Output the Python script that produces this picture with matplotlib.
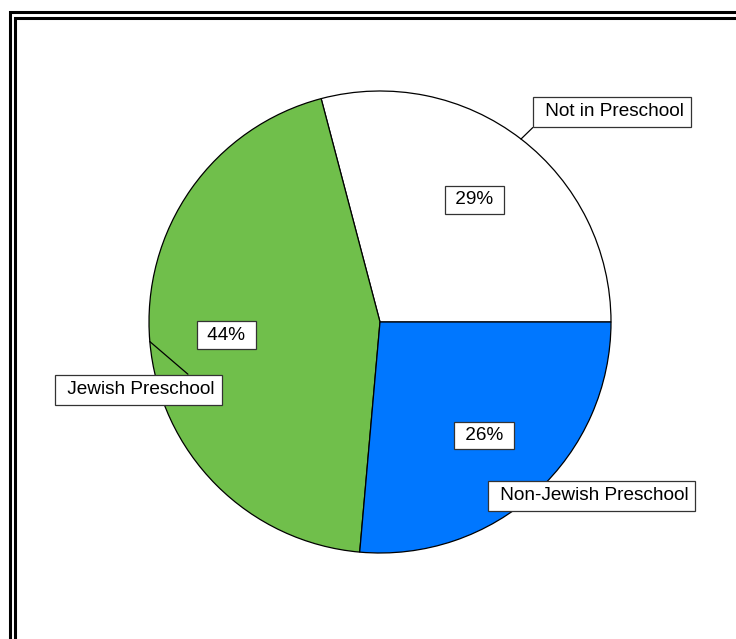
import numpy as np
import matplotlib.pyplot as plt
from matplotlib.patches import Rectangle

plt.rcParams['font.family'] = ['Liberation Sans', 'DejaVu Sans']

# preschool attendance shares
categories = ['Not in Preschool', 'Jewish Preschool', 'Non-Jewish Preschool']
shares = [29.1, 44.5, 26.4]
pct_labels = ['29%', '44%', '26%']
colors = ['#ffffff', '#70bf4b', '#0077ff']

W, H = 736, 639
fig = plt.figure(figsize=(W / 100, H / 100), dpi=100)
ax = fig.add_axes([0, 0, 1, 1])

# double frame, running off the right and bottom edges
for x0, y0 in [(9.5, 11.5), (14.5, 17.5)]:
    ax.add_patch(Rectangle((x0, -20), W + 40, H - y0 + 20, fill=False,
                           edgecolor='black', lw=2.2, clip_on=False))

cx, cy, r = 380, H - 322, 231
wedges, _ = ax.pie(shares, colors=colors, startangle=0, counterclock=True,
                   center=(cx, cy), radius=r, frame=True,
                   wedgeprops=dict(edgecolor='black', linewidth=0.9))
ax.set_xlim(0, W)
ax.set_ylim(0, H)
ax.axis('off')

fs = 13.7
box = dict(boxstyle='square,pad=0.28', facecolor='white', edgecolor='#333333', lw=0.9)

# label box centres (pixel coords from top-left) and where the leader meets the box
label_pos = [(612, 112), (138.5, 390), (591.5, 496)]
leader_rel = [(0, 0), (0.88, 1), (0.3, 0.5)]

for w, pct, name, (tx, ty), rel in zip(wedges, pct_labels, categories, label_pos, leader_rel):
    mid = np.deg2rad((w.theta1 + w.theta2) / 2)
    px = cx + 0.667 * r * np.cos(mid)
    py = cy + 0.667 * r * np.sin(mid)
    ax.text(px, py, ' ' + pct + ' ', ha='center', va='center', fontsize=fs, bbox=box, zorder=5)
    ex = cx + r * np.cos(mid)
    ey = cy + r * np.sin(mid)
    ax.annotate(' ' + name, xy=(ex, ey), xytext=(tx, H - ty), ha='center', va='center',
                fontsize=fs, bbox=dict(box, boxstyle='square,pad=0.36'), zorder=6,
                arrowprops=dict(arrowstyle='-', color='black', lw=0.9, relpos=rel,
                                shrinkA=0, shrinkB=0))

fig.savefig('out.png', dpi=100)
